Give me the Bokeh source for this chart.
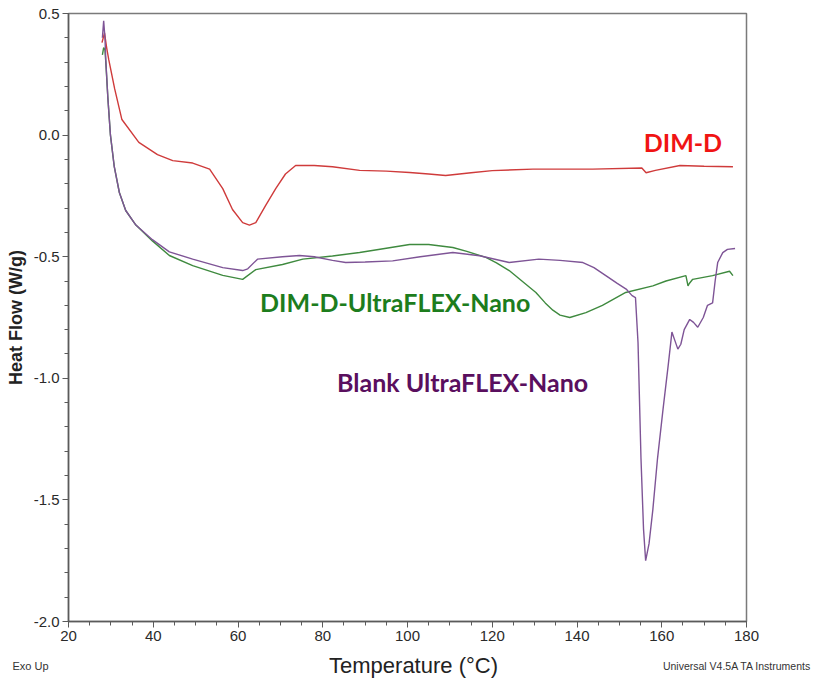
from bokeh.plotting import figure
from bokeh.layouts import column
from bokeh.models import Range1d, SingleIntervalTicker, PrintfTickFormatter, Label
from bokeh.core.properties import value
from bokeh.embed import file_html
from bokeh.resources import INLINE

# DIM-D (red)
red_T = [27.9, 28.5, 29.0, 29.5, 30.9, 32.6, 36.6, 41.0, 44.6, 49.3, 53.3, 56.4, 58.7, 61.1, 62.7, 64.2,
         66.5, 68.9, 71.2, 73.6, 78.0, 82.3, 88.7, 95.0, 100.5, 105.0, 109.0, 115.0, 120.0, 129.6,
         143.7, 155.3, 156.3, 158.5, 164.3, 170.0, 176.8]
red_y = [0.38, 0.42, 0.36, 0.31, 0.19, 0.064, -0.03, -0.08, -0.105, -0.115, -0.14, -0.22, -0.306, -0.36,
         -0.37, -0.36, -0.29, -0.22, -0.16, -0.125, -0.125, -0.13, -0.145, -0.148, -0.154, -0.16, -0.166,
         -0.155, -0.146, -0.14, -0.14, -0.135, -0.155, -0.145, -0.125, -0.128, -0.13]

# Blank UltraFLEX-Nano (purple)
pur_T = [28.0, 28.3, 28.6, 28.8, 29.3, 29.9, 30.8, 32.0, 33.5, 35.9, 39.8, 43.8, 49.3, 56.4, 61.1, 62.3,
         64.6, 70.5, 74.5, 78.0, 82.3, 85.4, 90.0, 96.5, 103.0, 110.7, 117.0, 124.0, 131.0, 136.0, 141.4,
         144.0, 146.8, 149.5, 151.6, 153.0, 153.8, 154.4, 155.1, 155.7, 156.2, 157.0, 157.9, 159.0, 160.3,
         161.5, 162.4, 163.0, 163.8, 164.5, 165.3, 166.6, 167.5, 168.5, 169.8, 170.8, 172.0, 172.6, 173.2,
         174.4, 175.5, 177.3]
pur_y = [0.40, 0.47, 0.40, 0.31, 0.15, 0.0, -0.13, -0.236, -0.31, -0.37, -0.43, -0.48, -0.51, -0.545,
         -0.557, -0.55, -0.51, -0.50, -0.495, -0.50, -0.515, -0.524, -0.522, -0.517, -0.50, -0.483, -0.496,
         -0.524, -0.51, -0.515, -0.524, -0.545, -0.578, -0.61, -0.633, -0.66, -0.668, -0.853, -1.33, -1.62,
         -1.75, -1.68, -1.54, -1.33, -1.128, -0.95, -0.81, -0.84, -0.88, -0.86, -0.80, -0.758, -0.77, -0.79,
         -0.75, -0.70, -0.69, -0.60, -0.524, -0.483, -0.47, -0.466]

# DIM-D-UltraFLEX-Nano (green)
grn_T = [28.0, 28.3, 28.6, 28.8, 29.3, 29.9, 30.8, 32.0, 33.5, 35.9, 39.8, 43.8, 49.3, 56.4, 61.1, 64.2,
         70.5, 75.3, 82.3, 88.7, 95.0, 100.5, 105.0, 110.7, 114.0, 118.5, 121.0, 124.0, 127.0, 130.3, 132.5,
         134.3, 136.0, 138.3, 142.1, 146.0, 151.5, 157.9, 161.0, 165.7, 166.2, 166.5, 167.3, 172.0, 176.0,
         176.8]
grn_y = [0.33, 0.36, 0.35, 0.30, 0.15, 0.0, -0.13, -0.236, -0.31, -0.37, -0.435, -0.495, -0.537, -0.577,
         -0.593, -0.553, -0.532, -0.51, -0.497, -0.483, -0.465, -0.45, -0.45, -0.462, -0.478, -0.503, -0.525,
         -0.557, -0.60, -0.647, -0.69, -0.72, -0.74, -0.75, -0.73, -0.70, -0.647, -0.62, -0.60, -0.578, -0.62,
         -0.61, -0.593, -0.578, -0.56, -0.578]

series_names = ["DIM-D", "DIM-D-UltraFLEX-Nano", "Blank UltraFLEX-Nano"]
label_T = [165.0, 97.1, 113.0]
label_y = [-0.03, -0.688, -1.017]

footer_texts = ["Exo Up", "Temperature (°C)", "Universal V4.5A TA Instruments"]

NARROW = "Liberation Sans Narrow, Arial Narrow, Liberation Sans, sans-serif"

p = figure(width=812, height=651, output_backend="svg", toolbar_location=None,
           x_range=Range1d(20, 180), y_range=Range1d(-2.0, 0.5),
           min_border_left=68, min_border_right=66, min_border_top=13, min_border_bottom=30)
p.frame_width = 678
p.frame_height = 608

p.xgrid.visible = False
p.ygrid.visible = False
p.outline_line_color = "#7a7a7a"
p.outline_line_width = 1.5

for ax in (p.xaxis[0], p.yaxis[0]):
    ax.axis_line_color = "#5a5a5a"
    ax.axis_line_width = 1.5
    ax.major_tick_line_color = "#5a5a5a"
    ax.minor_tick_line_color = "#5a5a5a"
    ax.major_tick_in = 0
    ax.minor_tick_in = 0
    ax.major_tick_out = 6
    ax.minor_tick_out = 4
    ax.major_label_text_font = NARROW
    ax.major_label_text_font_size = "15px"
    ax.major_label_text_color = "#2a2a2a"

p.xaxis.ticker = SingleIntervalTicker(interval=20, num_minor_ticks=4)
p.yaxis.ticker = SingleIntervalTicker(interval=0.5, num_minor_ticks=5)
p.xaxis.formatter = PrintfTickFormatter(format="%d")
p.yaxis.formatter = PrintfTickFormatter(format="%.1f")
p.xaxis.major_label_standoff = 3
p.yaxis.major_label_standoff = 3

p.yaxis.axis_label = "Heat Flow (W/g)"
p.yaxis.axis_label_text_font = "Liberation Sans"
p.yaxis.axis_label_text_font_size = "18px"
p.yaxis.axis_label_text_font_style = "bold"
p.yaxis.axis_label_text_color = "#222222"
p.yaxis.axis_label_standoff = 5

p.line(red_T, red_y, line_color="#cf3b3b", line_width=1.4)
p.line(grn_T, grn_y, line_color="#3f8a3f", line_width=1.4)
p.line(pur_T, pur_y, line_color="#7e5496", line_width=1.4)

text_colors = ["#f01414", "#1d7d1d", "#5a0f5e"]
for name, tx, ty, c in zip(series_names, label_T, label_y, text_colors):
    p.add_layout(Label(x=tx, y=ty, text=name, text_color=c, text_font="Lato",
                       text_font_style="bold", text_font_size="25px",
                       text_align="center", text_baseline="middle"))

# footer strip with the bottom texts
f = figure(width=812, height=30, output_backend="svg", toolbar_location=None,
           x_range=Range1d(0, 812), y_range=Range1d(0, 30),
           min_border_left=0, min_border_right=0, min_border_top=0, min_border_bottom=0)
f.frame_align = False
f.axis.visible = False
f.grid.visible = False
f.outline_line_color = None
f.text(x=[30], y=[16], text=[footer_texts[0]], text_font=value(NARROW), text_font_size="11px",
       text_color="#333333", text_align="center", text_baseline="middle")
f.text(x=[413], y=[16], text=[footer_texts[1]], text_font=value(NARROW), text_font_size="22px",
       text_color="#222222", text_align="center", text_baseline="middle")
f.text(x=[811], y=[16], text=[footer_texts[2]], text_font=value(NARROW), text_font_size="10.5px",
       text_color="#333333", text_align="right", text_baseline="middle")

layout = column(p, f, spacing=0)
open("out.html", "w").write(file_html(layout, INLINE))
